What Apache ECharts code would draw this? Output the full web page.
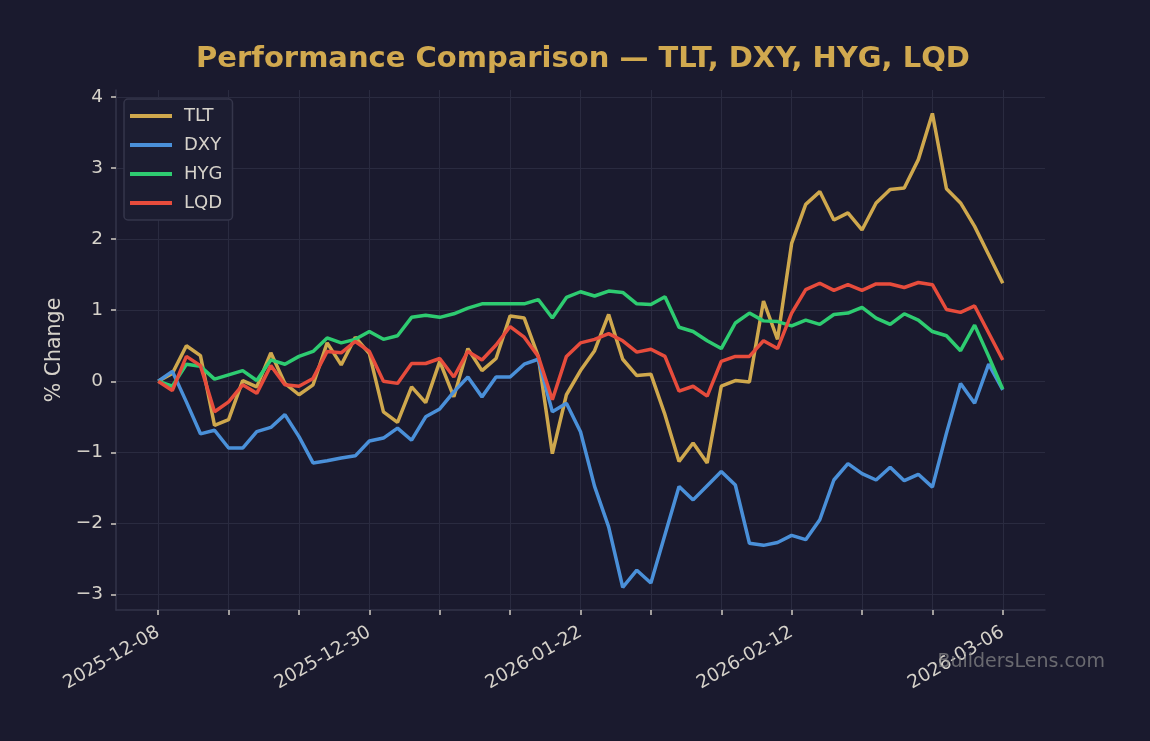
<!DOCTYPE html>
<html lang="en">
<head>
  <meta charset="UTF-8">
  <title>Performance Comparison</title>
  <style>
    html, body { margin: 0; padding: 0; background: #1a1a2e; }
    #echart { width: 1150px; height: 741px; }
  </style>
</head>
<body>
  <div id="echart"></div>
  <script src="https://cdn.jsdelivr.net/npm/echarts@6/dist/echarts.min.js"></script>
  <script>
    // trading days, 2025-12-08 .. 2026-03-06
    var dates = [
      '2025-12-08','2025-12-09','2025-12-10','2025-12-11','2025-12-12','2025-12-15','2025-12-16','2025-12-17',
      '2025-12-18','2025-12-19','2025-12-22','2025-12-23','2025-12-24','2025-12-26','2025-12-29','2025-12-30',
      '2025-12-31','2026-01-02','2026-01-05','2026-01-06','2026-01-07','2026-01-08','2026-01-09','2026-01-12',
      '2026-01-13','2026-01-14','2026-01-15','2026-01-16','2026-01-20','2026-01-21','2026-01-22','2026-01-23',
      '2026-01-26','2026-01-27','2026-01-28','2026-01-29','2026-01-30','2026-02-02','2026-02-03','2026-02-04',
      '2026-02-05','2026-02-06','2026-02-09','2026-02-10','2026-02-11','2026-02-12','2026-02-13','2026-02-17',
      '2026-02-18','2026-02-19','2026-02-20','2026-02-23','2026-02-24','2026-02-25','2026-02-26','2026-02-27',
      '2026-03-02','2026-03-03','2026-03-04','2026-03-05','2026-03-06'
    ];

    // % change per ticker
    var tlt = [0, 0.11, 0.50, 0.36, -0.62, -0.54, 0.01, -0.08, 0.40, -0.03,
               -0.19, -0.05, 0.54, 0.23, 0.62, 0.39, -0.43, -0.58, -0.08, -0.30,
               0.28, -0.22, 0.46, 0.15, 0.32, 0.92, 0.89, 0.35, -1.02, -0.19,
               0.15, 0.43, 0.94, 0.31, 0.08, 0.10, -0.47, -1.13, -0.87, -1.15,
               -0.07, 0.01, -0.01, 1.13, 0.59, 1.94, 2.49, 2.67, 2.27, 2.37,
               2.13, 2.51, 2.70, 2.72, 3.12, 3.77, 2.71, 2.51, 2.18, 1.78, 1.38];
    var dxy = [0, 0.14, -0.29, -0.74, -0.69, -0.94, -0.94, -0.71, -0.65, -0.47,
               -0.78, -1.15, -1.12, -1.08, -1.05, -0.84, -0.80, -0.66, -0.83, -0.50,
               -0.39, -0.15, 0.06, -0.22, 0.06, 0.06, 0.24, 0.31, -0.43, -0.31,
               -0.71, -1.48, -2.05, -2.90, -2.66, -2.84, -2.16, -1.48, -1.67, -1.47,
               -1.27, -1.46, -2.28, -2.31, -2.27, -2.17, -2.23, -1.95, -1.39, -1.16,
               -1.30, -1.39, -1.21, -1.40, -1.31, -1.49, -0.73, -0.03, -0.31, 0.24, -0.12];
    var hyg = [0, -0.07, 0.24, 0.21, 0.03, 0.09, 0.15, 0.01, 0.30, 0.24,
               0.35, 0.42, 0.61, 0.54, 0.59, 0.70, 0.59, 0.64, 0.90, 0.93,
               0.90, 0.95, 1.03, 1.09, 1.09, 1.09, 1.09, 1.15, 0.89, 1.18,
               1.26, 1.20, 1.27, 1.25, 1.09, 1.08, 1.19, 0.76, 0.70, 0.57,
               0.46, 0.82, 0.96, 0.85, 0.84, 0.78, 0.86, 0.80, 0.94, 0.96,
               1.04, 0.89, 0.80, 0.95, 0.86, 0.70, 0.64, 0.43, 0.79, 0.35, -0.11];
    var lqd = [0, -0.13, 0.35, 0.22, -0.43, -0.29, -0.05, -0.17, 0.22, -0.05,
               -0.07, 0.04, 0.42, 0.40, 0.56, 0.42, 0.00, -0.03, 0.25, 0.25,
               0.32, 0.06, 0.42, 0.30, 0.51, 0.77, 0.62, 0.35, -0.26, 0.35,
               0.54, 0.59, 0.67, 0.57, 0.41, 0.45, 0.35, -0.14, -0.07, -0.21,
               0.28, 0.35, 0.35, 0.57, 0.46, 0.96, 1.29, 1.38, 1.28, 1.36,
               1.28, 1.37, 1.37, 1.32, 1.39, 1.36, 1.01, 0.97, 1.06, 0.68, 0.30];

    var names = ['TLT', 'DXY', 'HYG', 'LQD'];
    var colors = ['#cfa84d', '#4a90d9', '#2ecc71', '#e74c3c'];
    var xTicks = [0, 5, 10, 15, 20, 25, 30, 35, 40, 45, 50, 55, 60];
    var xLabels = [0, 15, 30, 45, 60];
    var yTicks = [-3, -2, -1, 0, 1, 2, 3, 4];

    var textColor = '#d6d2ca';
    var gridColor = '#2a2b40';
    var spineColor = '#33344a';
    var font = 'DejaVu Sans';

    function toPairs(arr) {
      return arr.map(function (v, i) { return [i, v]; });
    }

    var option = {
      backgroundColor: '#1a1a2e',
      animation: false,
      textStyle: { fontFamily: font },
      title: {
        text: 'Performance Comparison \u2014 TLT, DXY, HYG, LQD',
        left: 578,
        textAlign: 'center',
        top: 40,
        textStyle: { color: '#d1a94f', fontSize: 29, fontWeight: 'bold', fontFamily: font }
      },
      legend: {
        orient: 'vertical',
        left: 124,
        top: 99,
        padding: [8, 10, 8, 6],
        itemGap: 11,
        itemWidth: 42,
        itemHeight: 4,
        icon: 'rect',
        backgroundColor: '#1c1d31',
        borderColor: '#35364b',
        borderWidth: 1.5,
        borderRadius: 4,
        textStyle: { color: textColor, fontSize: 18, fontFamily: font, padding: [0, 0, 0, 7] },
        data: names
      },
      grid: {
        left: 116, right: 105, top: 90, bottom: 131,
        containLabel: false,
        outerBoundsMode: 'none'
      },
      xAxis: {
        type: 'value',
        min: -3,
        max: 63,
        axisLine: { show: true, onZero: false, lineStyle: { color: spineColor, width: 1.5 } },
        axisTick: { show: true, length: 5, customValues: xTicks, lineStyle: { color: '#cfcac2', width: 1.5 } },
        splitLine: { show: true, lineStyle: { color: gridColor, width: 1 } },
        axisLabel: {
          customValues: xLabels,
          rotate: 30,
          color: textColor,
          fontSize: 18.5,
          fontFamily: font,
          margin: 21,
          formatter: function (v) { return dates[Math.round(v)] || ''; }
        }
      },
      yAxis: {
        type: 'value',
        min: -3.22,
        max: 4.1,
        name: '% Change',
        nameLocation: 'middle',
        nameGap: 50,
        nameTextStyle: { color: textColor, fontSize: 20.5, fontFamily: font },
        axisLine: { show: true, onZero: false, lineStyle: { color: spineColor, width: 1.5 } },
        axisTick: { show: true, length: 5, customValues: yTicks, lineStyle: { color: '#cfcac2', width: 1.5 } },
        splitLine: { show: true, lineStyle: { color: gridColor, width: 1 } },
        axisLabel: {
          customValues: yTicks,
          color: textColor,
          fontSize: 18.5,
          fontFamily: font,
          margin: 13,
          formatter: function (v) { return v < 0 ? '\u2212' + Math.abs(v) : String(v); }
        }
      },
      graphic: [{
        type: 'text',
        right: 45,
        top: 653,
        style: { text: 'BuildersLens.com', fill: 'rgba(140,140,140,0.7)', font: '19px "DejaVu Sans"' },
        z: 100
      }],
      series: [tlt, dxy, hyg, lqd].map(function (arr, k) {
        return {
          name: names[k],
          type: 'line',
          data: toPairs(arr),
          showSymbol: false,
          symbol: 'none',
          lineStyle: { color: colors[k], width: 3.5 },
          itemStyle: { color: colors[k] },
          z: 2 + k
        };
      })
    };

    var myChart = echarts.init(document.getElementById('echart'));
    myChart.setOption(option);
  </script>
</body>
</html>
